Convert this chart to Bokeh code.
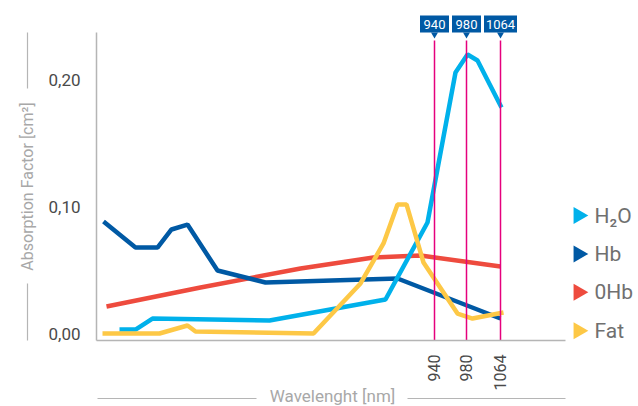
import math
from bokeh.plotting import figure
from bokeh.models import Range1d, FixedTicker, Label
from bokeh.embed import file_html
from bokeh.resources import INLINE

# x positions are in chart position units (non-linear wavelength axis)
pos_h2o = [23, 39, 56, 173, 289, 331, 359, 371, 381, 405]
h2o = [0.0031, 0.0031, 0.0118, 0.0102, 0.0268, 0.0874, 0.2055, 0.2197, 0.2150, 0.1780]

pos_hb = [7, 39, 61, 75, 91, 121, 169, 301, 404]
hb = [0.0882, 0.0677, 0.0677, 0.0819, 0.0858, 0.0496, 0.0402, 0.0433, 0.0118]

pos_ohb = [10, 104, 204, 277, 324, 404]
ohb = [0.0213, 0.0362, 0.0512, 0.0598, 0.0614, 0.0528]

pos_fat = [6, 63, 91, 99, 217, 264, 287, 301, 310, 327, 361, 376, 407]
fat = [0.0, 0.0, 0.0063, 0.0016, 0.0, 0.0394, 0.0709, 0.1016, 0.1016, 0.0559, 0.0157, 0.0118, 0.0165]

marker_pos = [338, 370, 404]
marker_labels = ["940", "980", "1064"]
y_ticks = [0, 0.1, 0.2]
y_tick_labels = ["0,00", "0,10", "0,20"]
series_names = ["H\u2082O", "Hb", "0Hb", "Fat"]
series_colors = ["#00b1eb", "#0059a4", "#ee4b3e", "#fdc846"]

FONT = "Roboto"
AX_X0, AX_X1 = 0, 469          # extent of the x axis
AX_Y0, AX_Y1 = -0.0055, 0.2370  # extent of the y axis
PXY = 1270.0                    # pixels per unit on y


def sy(py):
    # canvas pixel row -> data y
    return (333 - py) / PXY


def sx(px):
    # canvas pixel column -> data x
    return px - 96


p = figure(width=638, height=406, output_backend="svg", toolbar_location=None,
           x_range=Range1d(sx(0), sx(638)), y_range=Range1d(sy(406), sy(0)),
           min_border=0)
p.outline_line_color = None
p.grid.visible = False

ax = p.yaxis[0]
ax.fixed_location = AX_X0
ax.bounds = (AX_Y0, AX_Y1)
ax.ticker = FixedTicker(ticks=y_ticks)
ax.major_label_overrides = {t: l for t, l in zip(y_ticks, y_tick_labels)}
ax.major_tick_line_color = None
ax.minor_tick_line_color = None
ax.axis_line_color = "#b5b5b5"
ax.axis_line_width = 1.5
ax.major_label_text_font = FONT
ax.major_label_text_font_size = "17px"
ax.major_label_text_color = "#4a4a4a"
ax.major_label_standoff = 10

bx = p.xaxis[0]
bx.fixed_location = AX_Y0
bx.bounds = (AX_X0, AX_X1)
bx.ticker = FixedTicker(ticks=marker_pos)
bx.major_label_overrides = {t: l for t, l in zip(marker_pos, marker_labels)}
bx.major_label_orientation = math.pi / 2
bx.major_tick_line_color = None
bx.minor_tick_line_color = None
bx.axis_line_color = "#b5b5b5"
bx.axis_line_width = 1.5
bx.major_label_text_font = FONT
bx.major_label_text_font_size = "16px"
bx.major_label_text_color = "#4a4a4a"
bx.major_label_standoff = 8

series = [(pos_h2o, h2o), (pos_hb, hb), (pos_ohb, ohb), (pos_fat, fat)]
for idx in [2, 1, 0, 3]:
    xs, ys = series[idx]
    p.line(xs, ys, line_width=4.5, line_color=series_colors[idx])

# marker lines
p.segment(x0=marker_pos, y0=[AX_Y0] * 3, x1=marker_pos, y1=[sy(40)] * 3,
          line_color="#e5007d", line_width=1.5)

# tags above the marker lines
tag_w = [17 + 4 * len(l) for l in marker_labels]
p.rect(x=marker_pos, y=[sy(23.5)] * 3, width=tag_w, height=[17] * 3,
       width_units="screen", height_units="screen", fill_color="#0059a4", line_color=None)
p.scatter(x=marker_pos, y=[sy(34)] * 3, marker="inverted_triangle", size=7,
          fill_color="#0059a4", line_color=None)
for xp, lab in zip(marker_pos, marker_labels):
    p.add_layout(Label(x=xp, y=sy(24), text=lab, text_align="center", text_baseline="middle",
                       text_color="white", text_font=FONT, text_font_size="13px"))

# legend
leg_y = [sy(215 + 38.4 * i) for i in range(len(series_names))]
p.scatter(x=[sx(578)] * 4, y=leg_y, marker="triangle", angle=-math.pi / 2, size=17,
          fill_color=series_colors, line_color=None)
for name, ly in zip(series_names, leg_y):
    p.add_layout(Label(x=sx(594), y=ly, text=name, text_align="left", text_baseline="middle",
                       text_color="#707070", text_font=FONT, text_font_size="21px"))

# y axis title with rules
p.add_layout(Label(x=sx(27), y=sy(186), text="Absorption Factor [cm\u00b2]", angle=math.pi / 2,
                   text_align="center", text_baseline="middle", text_color="#a8a8a8",
                   text_font=FONT, text_font_size="16px"))
p.segment(x0=[sx(27)] * 2, y0=[sy(32), sy(283)], x1=[sx(27)] * 2, y1=[sy(88), sy(340)],
          line_color="#b5b5b5", line_width=1.2)

# x axis title with rules
p.add_layout(Label(x=sx(332), y=sy(395), text="Wavelenght [nm]", text_align="center",
                   text_baseline="middle", text_color="#a8a8a8", text_font=FONT, text_font_size="17px"))
p.segment(x0=[sx(97), sx(407)], y0=[sy(398)] * 2, x1=[sx(256), sx(565)], y1=[sy(398)] * 2,
          line_color="#b5b5b5", line_width=1.2)

open("out.html", "w").write(file_html(p, INLINE))
